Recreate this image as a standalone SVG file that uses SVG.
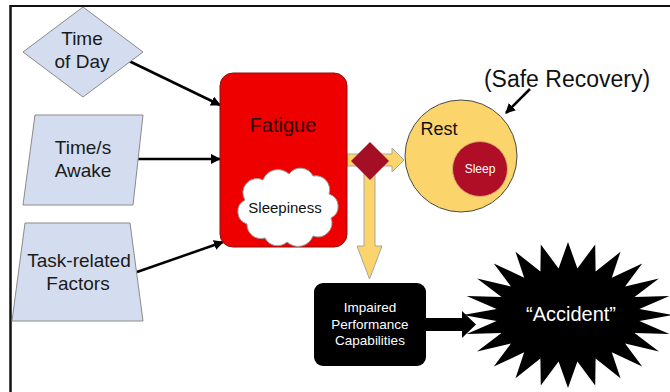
<svg xmlns="http://www.w3.org/2000/svg" width="670" height="392" viewBox="0 0 670 392">
<style>
text{font-family:"Liberation Sans",Arial,sans-serif;text-anchor:middle}
.input{fill:#d3ddef;stroke:#8a8a8a;stroke-width:1}
.lbl{font-size:19px;fill:#1a1a1a}
.conn{stroke:#000;stroke-width:2.5;fill:none;marker-end:url(#ah)}
.yel{fill:#fcd46c;stroke:#a9a6a0;stroke-width:1}
</style>
<defs>
<marker id="ah" viewBox="0 0 10 10" refX="9" refY="5" markerWidth="4" markerHeight="4" orient="auto" markerUnits="strokeWidth">
<path d="M0,0 L10,5 L0,10 z" fill="#000"/>
</marker>
</defs>
<rect width="670" height="392" fill="#fff"/>
<g id="frame">
<line x1="10" y1="6" x2="670" y2="6" stroke="#111" stroke-width="2"/>
<line x1="10.5" y1="5" x2="10.5" y2="392" stroke="#111" stroke-width="2.5"/>
</g>
<g id="connectors">
<line class="conn" x1="129" y1="61" x2="220" y2="105"/>
<line class="conn" x1="137" y1="159" x2="220" y2="159"/>
<line class="conn" x1="137" y1="272" x2="223" y2="242"/>
<path class="yel" d="M347,154 L392,154 L392,148 L404,160 L392,172 L392,166 L375,166 L375,246 L382,246 L369.5,279 L357,246 L364,246 L364,166 L347,166 Z"/>
<line x1="530" y1="89" x2="506" y2="113" stroke="#000" stroke-width="2.5" marker-end="url(#ah)"/>
<polygon points="426,318 462,318 462,311 476,324.5 462,338 462,331 426,331" fill="#000"/>
</g>
<g id="time-of-day">
<polygon class="input" points="23,52 83,7 143,52 83,97"/>
<text class="lbl" x="82" y="45">Time</text>
<text class="lbl" x="82" y="68">of Day</text>
</g>
<g id="time-awake">
<polygon class="input" points="35,115 143,115 133,205 23,205"/>
<text class="lbl" x="83" y="154">Time/s</text>
<text class="lbl" x="83" y="177">Awake</text>
</g>
<g id="task-factors">
<polygon class="input" points="25,223 130,223 143,321 12,321"/>
<text class="lbl" x="79" y="267">Task-related</text>
<text class="lbl" x="78" y="290">Factors</text>
</g>
<g id="fatigue">
<rect x="220" y="73" width="127" height="174" rx="13" fill="#ee0000" stroke="#8a1010" stroke-width="1"/>
<text x="283" y="132" font-size="20" fill="#2a0808">Fatigue</text>
</g>
<g id="sleepiness">
<path d="M245,200 a14,14 0 0 1 18,-20 a16,16 0 0 1 26,-6 a14,14 0 0 1 24,2 a14,14 0 0 1 16,18 a13,13 0 0 1 2,24 a14,14 0 0 1 -18,18 a16,16 0 0 1 -26,6 a14,14 0 0 1 -22,-4 a14,14 0 0 1 -18,-14 a13,13 0 0 1 -2,-24 z" fill="#fff" stroke="#9a9a9a" stroke-width="1"/>
<text x="285" y="213" font-size="15" fill="#111">Sleepiness</text>
</g>
<g id="decision">
<polygon points="351,161 370,142 389,161 370,180" fill="#a50f25"/>
</g>
<g id="rest">
<circle cx="461" cy="156" r="56" fill="#fcd46c" stroke="#4a4a4a" stroke-width="1"/>
<text x="439" y="135" font-size="18" fill="#111">Rest</text>
</g>
<g id="sleep">
<circle cx="480" cy="169" r="27.5" fill="#b00d26" stroke="#d9b070" stroke-width="1"/>
<text x="480" y="173" font-size="12" fill="#fff">Sleep</text>
</g>
<g id="safe-recovery">
<text x="567" y="87" font-size="23" fill="#111">(Safe Recovery)</text>
</g>
<g id="impaired">
<rect x="314" y="283" width="112" height="83" rx="9" fill="#000"/>
<text x="370" y="312" font-size="13.5" fill="#fff">Impaired</text>
<text x="370" y="328.5" font-size="13.5" fill="#fff">Performance</text>
<text x="370" y="345" font-size="13.5" fill="#fff">Capabilities</text>
</g>
<g id="accident">
<polygon fill="#000" points="673,315 639.4,321.1 669.4,333.9 634.5,333 658.9,351.5 625.1,343.6 642.2,366.6 611.8,352.3 620.5,378.2 595.6,358.4 595.2,385.5 577.4,361.6 568,388 558.6,361.6 540.8,385.5 540.4,358.4 515.5,378.2 524.2,352.3 493.8,366.6 510.9,343.6 477.1,351.5 501.5,333 466.6,333.9 496.6,321.1 463,315 496.6,308.9 466.6,296.1 501.5,297 477.1,278.5 510.9,286.4 493.8,263.4 524.2,277.7 515.5,251.8 540.4,271.6 540.8,244.5 558.6,268.4 568,242 577.4,268.4 595.2,244.5 595.6,271.6 620.5,251.8 611.8,277.7 642.2,263.4 625.1,286.4 658.9,278.5 634.5,297 669.4,296.1 639.4,308.9"/>
<text x="571" y="321" font-size="20" fill="#fff">“Accident”</text>
</g>
</svg>
